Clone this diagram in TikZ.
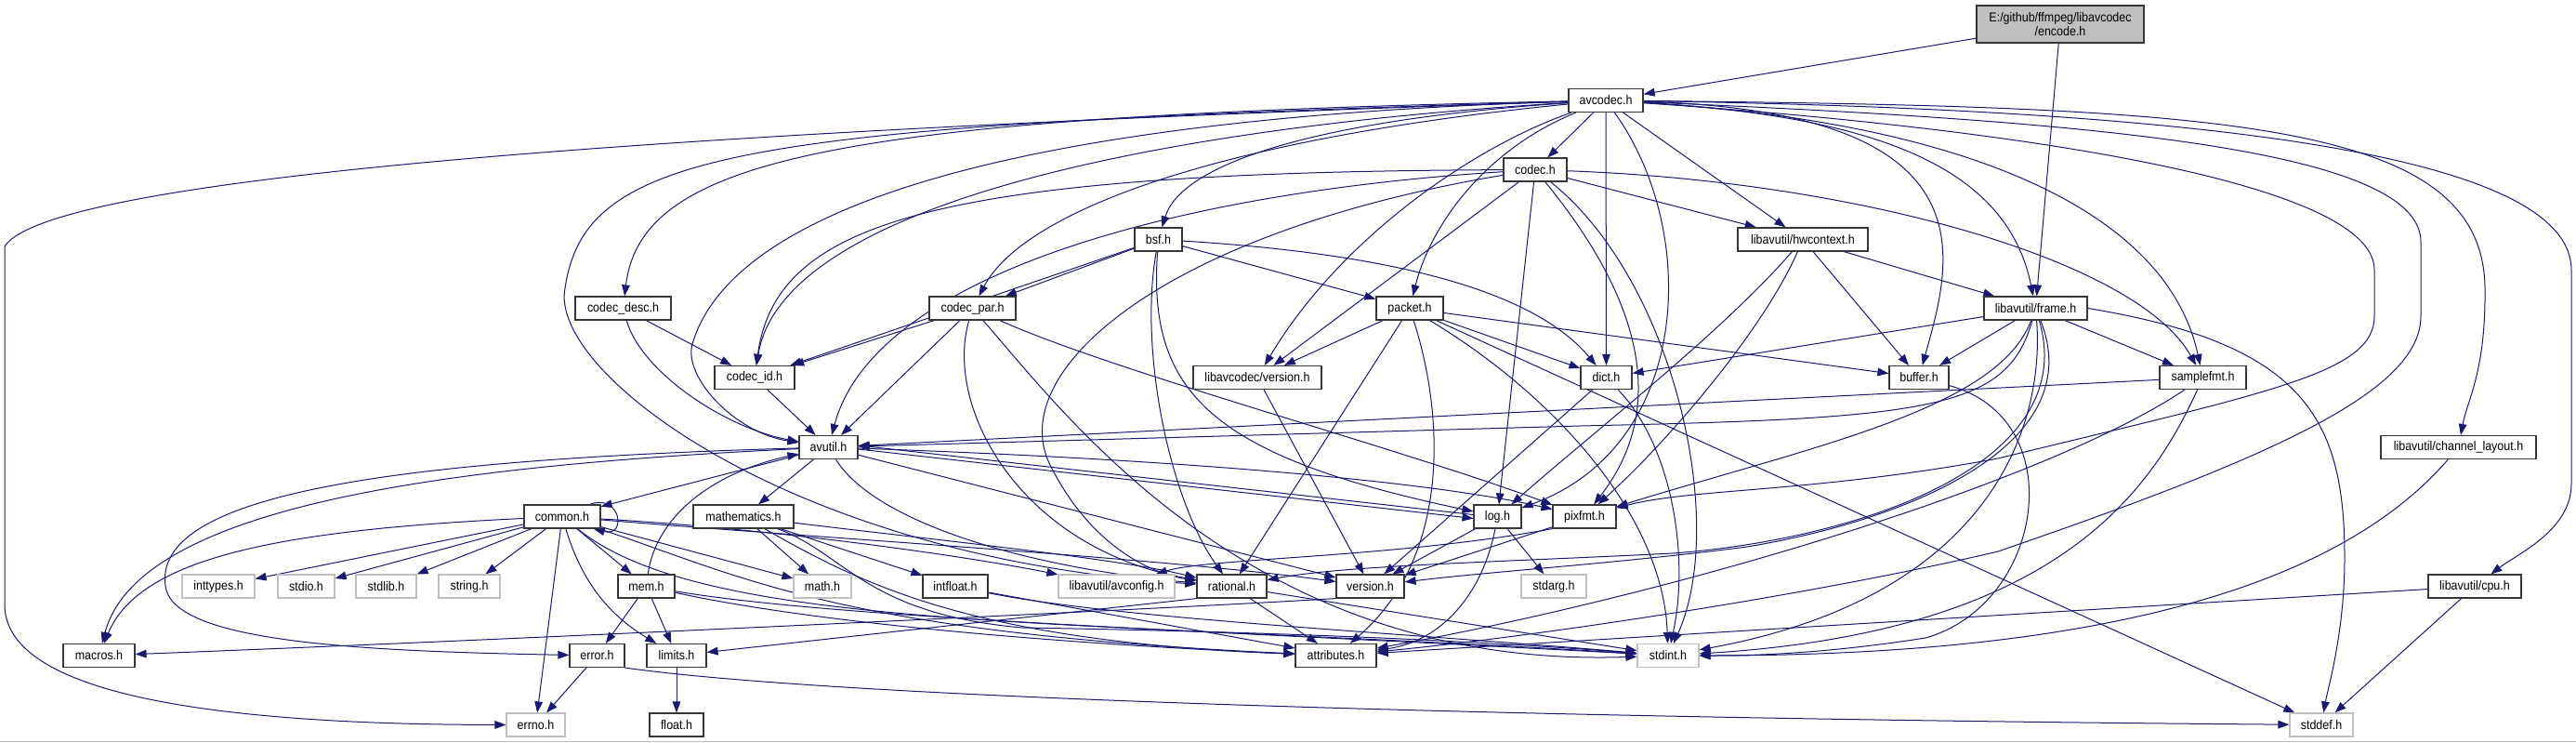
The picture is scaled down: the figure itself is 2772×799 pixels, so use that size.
\documentclass[tikz,border=0pt]{standalone}
\usepackage{fontspec}
\setmainfont{Liberation Sans}[FakeStretch=0.9]
\usetikzlibrary{arrows.meta}
\pgfdeclarelayer{bg}
\pgfsetlayers{bg,main}
\definecolor{edgec}{RGB}{25,25,112}
\definecolor{bord}{RGB}{55,55,55}
\definecolor{sysg}{RGB}{191,191,191}
\definecolor{encf}{RGB}{191,191,191}
\begin{document}
\begin{tikzpicture}[x=0.75pt,y=-0.75pt,
  nd/.style={draw=bord,line width=0.9pt,fill=white,inner sep=0pt,minimum height=25*0.75pt,font=\fontsize{10.4}{11.25}\selectfont},
  sys/.style={nd,draw=sysg},
  wd/.style={minimum width=#1*0.75pt},
  edg/.style={draw=edgec,line width=0.75pt,-{Triangle[length=9pt,width=6.5pt]}}]
\path[use as bounding box] (0,0) rectangle (2772,799);

% nodes
\node[nd,wd=180,minimum height=40*0.75pt,fill=encf,align=center] (encode) at (2217,26) {E:/github/ffmpeg/libavcodec\\/encode.h};
\node[nd,wd=80] (avcodec) at (1728,108) {avcodec.h};
\node[nd,wd=68] (codec) at (1652,182.5) {codec.h};
\node[nd,wd=140] (hwctx) at (1940,257.5) {libavutil/hwcontext.h};
\node[nd,wd=51] (bsf) at (1246.5,257.5) {bsf.h};
\node[nd,wd=103] (cdesc) at (670.5,331.5) {codec\_desc.h};
\node[nd,wd=93] (cpar) at (1046.5,331.5) {codec\_par.h};
\node[nd,wd=72] (packet) at (1517,331.5) {packet.h};
\node[nd,wd=111] (frame) at (2190.5,331.5) {libavutil/frame.h};
\node[nd,wd=86] (cid) at (812,406) {codec\_id.h};
\node[nd,wd=138] (lver) at (1353,406) {libavcodec/version.h};
\node[nd,wd=55] (dict) at (1728.5,406) {dict.h};
\node[nd,wd=64] (buffer) at (2065,406) {buffer.h};
\node[nd,wd=93] (sfmt) at (2370.5,406) {samplefmt.h};
\node[nd,wd=63] (avutil) at (891.5,481) {avutil.h};
\node[nd,wd=167] (chl) at (2645.5,481) {libavutil/channel\_layout.h};
\node[nd,wd=82] (common) at (605,555.5) {common.h};
\node[nd,wd=108] (mathh) at (800,555.5) {mathematics.h};
\node[nd,wd=51] (log) at (1611.5,555.5) {log.h};
\node[nd,wd=68] (pixfmt) at (1705,555.5) {pixfmt.h};
\node[sys,wd=78] (inttypes) at (235,630.5) {inttypes.h};
\node[sys,wd=61] (stdio) at (329.5,630.5) {stdio.h};
\node[sys,wd=65] (stdlib) at (415.5,630.5) {stdlib.h};
\node[sys,wd=66] (string) at (505,630.5) {string.h};
\node[nd,wd=61] (mem) at (695.5,630.5) {mem.h};
\node[sys,wd=62] (math) at (885,630.5) {math.h};
\node[nd,wd=70] (intfloat) at (1028,630.5) {intfloat.h};
\node[sys,wd=125] (avconfig) at (1201.5,630.5) {libavutil/avconfig.h};
\node[nd,wd=75] (rational) at (1325.5,630.5) {rational.h};
\node[nd,wd=73] (version) at (1474.5,630.5) {version.h};
\node[sys,wd=70] (stdarg) at (1672,630.5) {stdarg.h};
\node[nd,wd=100] (cpu) at (2663,630.5) {libavutil/cpu.h};
\node[nd,wd=77] (macros) at (106.5,705) {macros.h};
\node[nd,wd=59] (error) at (642.5,705) {error.h};
\node[nd,wd=64] (limits) at (728,705) {limits.h};
\node[nd,wd=87] (attr) at (1437.5,705) {attributes.h};
\node[sys,wd=66] (stdint) at (1795,705) {stdint.h};
\node[sys,wd=63] (errno) at (576.5,779.5) {errno.h};
\node[nd,wd=58] (float) at (728,779.5) {float.h};
\node[sys,wd=68] (stddef) at (2498,779.5) {stddef.h};

\begin{pgfonlayer}{bg}
\fill[white] (0,0) rectangle (2772,799);
\draw[sysg,line width=1.2pt] (0,797.5) -- (2772,797.5);
% encode.h
\draw[edg] (encode) -- (avcodec);
\draw[edg] (encode) -- (frame);
% avcodec.h
\draw[edg] (avcodec) .. controls (900,135) and (60,180) .. (5,265) -- (5,650) .. controls (5,740) and (200,779) .. (errno);
\draw[edg] (avcodec) .. controls (2100,130) and (2330,220) .. (sfmt);
\draw[edg] (avcodec) .. controls (2250,130) and (2605,160) .. (2605,260) -- (2605,340) .. controls (2605,420) and (2450,490) .. (2150,593) .. controls (1950,640) and (1650,685) .. (attr);
\draw[edg] (avcodec) .. controls (2400,115) and (2672,130) .. (2674,310) .. controls (2675,400) and (2655,430) .. (chl);
\draw[edg] (avcodec) .. controls (2400,118) and (2766,170) .. (2767,290) -- (2767,520) .. controls (2767,570) and (2710,595) .. (cpu);
\draw[edg] (avcodec) .. controls (2200,140) and (2555,200) .. (2555,290) -- (2555,340) .. controls (2555,400) and (2450,420) .. (2150,493) .. controls (1950,530) and (1820,525) .. (pixfmt);
\draw[edg] (avcodec) .. controls (2020,125) and (2160,180) .. (frame);
\draw[edg] (avcodec) .. controls (2150,120) and (2100,280) .. (buffer);
\draw[edg] (avcodec) -- (hwctx);
\draw[edg] (avcodec) -- (dict);
\draw[edg] (avcodec) -- (codec);
\draw[edg] (avcodec) .. controls (1600,160) and (1540,240) .. (packet);
\draw[edg] (avcodec) .. controls (1400,130) and (1270,180) .. (bsf);
\draw[edg] (avcodec) .. controls (1300,150) and (1100,230) .. (cpar);
\draw[edg] (avcodec) .. controls (1580,160) and (1440,260) .. (lver);
\draw[edg] (avcodec) .. controls (1200,140) and (840,230) .. (cid);
\draw[edg] (avcodec) .. controls (900,125) and (690,170) .. (cdesc);
\draw[edg] (avcodec) .. controls (1000,130) and (780,250) .. (745,370) .. controls (735,405) and (790,465) .. (avutil);
\draw[edg] (avcodec) .. controls (800,135) and (630,160) .. (608,310) .. controls (590,400) and (850,600) .. (rational);
\draw[edg] (avcodec) .. controls (1830,250) and (1820,480) .. (log);
% codec.h
\draw[edg] (codec) .. controls (1800,300) and (1860,560) .. (stdint);
\draw[edg] (codec) .. controls (1250,208) and (940,300) .. (avutil);
\draw[edg] (codec) -- (hwctx);
\draw[edg] (codec) -- (log);
\draw[edg] (codec) .. controls (1740,290) and (1810,420) .. (pixfmt);
\draw[edg] (codec) .. controls (1250,250) and (1080,400) .. (1130,500) .. controls (1170,580) and (1230,615) .. (rational);
\draw[edg] (codec) .. controls (2000,195) and (2300,280) .. (sfmt);
\draw[edg] (codec) .. controls (1000,185) and (835,240) .. (cid);
\draw[edg] (codec) -- (lver);
% bsf.h
\draw[edg] (bsf) .. controls (1450,270) and (1640,300) .. (dict);
\draw[edg] (bsf) .. controls (1235,420) and (1300,490) .. (log);
\draw[edg] (bsf) .. controls (1225,380) and (1260,540) .. (rational);
\draw[edg] (bsf) -- (cid);
\draw[edg] (bsf) -- (cpar);
\draw[edg] (bsf) -- (packet);
% codec_par.h
\draw[edg] (cpar) -- (cid);
\draw[edg] (cpar) -- (avutil);
\draw[edg] (cpar) .. controls (1015,440) and (1100,590) .. (rational);
\draw[edg] (cpar) .. controls (1200,400) and (1500,480) .. (pixfmt);
\draw[edg] (cpar) .. controls (1150,450) and (1350,720) .. (stdint);
% codec_desc.h, codec_id.h
\draw[edg] (cdesc) -- (cid);
\draw[edg] (cdesc) .. controls (690,400) and (780,460) .. (avutil);
\draw[edg] (cid) -- (avutil);
% packet.h
\draw[edg] (packet) -- (lver);
\draw[edg] (packet) -- (rational);
\draw[edg] (packet) .. controls (1555,450) and (1560,600) .. (attr);
\draw[edg] (packet) .. controls (1680,430) and (1790,560) .. (stdint);
\draw[edg] (packet) -- (dict);
\draw[edg] (packet) -- (buffer);
\draw[edg] (packet) -- (stddef);
% libavcodec/version.h
\draw[edg] (lver) -- (version);
% hwcontext.h
\draw[edg] (hwctx) -- (buffer);
\draw[edg] (hwctx) -- (frame);
\draw[edg] (hwctx) .. controls (1850,360) and (1720,460) .. (log);
\draw[edg] (hwctx) .. controls (1900,350) and (1800,470) .. (pixfmt);
% frame.h
\draw[edg] (frame) -- (buffer);
\draw[edg] (frame) -- (sfmt);
\draw[edg] (frame) -- (dict);
\draw[edg] (frame) .. controls (2160,440) and (2080,450) .. (1700,458) -- (avutil);
\draw[edg] (frame) .. controls (2250,480) and (2050,560) .. (1880,588) .. controls (1750,605) and (1600,615) .. (version);
\draw[edg] (frame) .. controls (2240,500) and (2000,580) .. (1800,595) .. controls (1600,605) and (1450,608) .. (rational);
\draw[edg] (frame) .. controls (2150,440) and (1950,480) .. (pixfmt);
\draw[edg] (frame) .. controls (2200,450) and (2150,640) .. (stdint);
\draw[edg] (frame.east) .. controls (2480,370) and (2523,450) .. (2523,600) .. controls (2523,680) and (2505,740) .. (stddef);
% dict.h, buffer.h
\draw[edg] (dict) -- (version);
\draw[edg] (dict) .. controls (1800,480) and (1818,600) .. (stdint);
\draw[edg] (buffer) .. controls (2230,450) and (2200,650) .. (2072,686) .. controls (1950,705) and (1870,705) .. (stdint);
% samplefmt.h
\draw[edg] (sfmt) -- (avutil);
\draw[edg] (sfmt) .. controls (2200,520) and (1800,640) .. (attr);
\draw[edg] (sfmt) .. controls (2310,540) and (2200,680) .. (stdint);
% channel_layout.h, cpu.h
\draw[edg] (chl) .. controls (2500,650) and (2200,705) .. (stdint);
\draw[edg] (cpu) -- (stddef);
\draw[edg] (cpu) -- (attr);
% avutil.h
\draw[edg] (avutil) -- (common);
\draw[edg] (avutil) -- (mathh);
\draw[edg] (avutil) .. controls (500,500) and (150,540) .. (macros);
\draw[edg] (avutil) .. controls (400,495) and (165,535) .. (178,630) .. controls (185,690) and (380,700) .. (error);
\draw[edg] (avutil) .. controls (940,560) and (1100,610) .. (rational);
\draw[edg] (avutil) -- (version);
\draw[edg] ([yshift=-1.5pt]avutil.east) -- ([yshift=-1.5pt]log.west);
\draw[edg] ([yshift=1.5pt]log.west) -- ([yshift=1.5pt]avutil.east);
\draw[edg] (avutil) .. controls (1300,495) and (1550,520) .. (pixfmt);
% mathematics.h
\draw[edg] (mathh) -- (math);
\draw[edg] (mathh) -- (intfloat);
\draw[edg] (mathh) .. controls (1000,580) and (1200,600) .. (rational);
\draw[edg] (mathh) .. controls (930,630) and (1050,690) .. (attr);
\draw[edg] (mathh) .. controls (910,595) and (930,660) .. (1100,675) .. controls (1400,680) and (1600,690) .. (stdint);
% common.h
\draw[edg] (common) -- (inttypes);
\draw[edg] (common) -- (stdio);
\draw[edg] (common) -- (stdlib);
\draw[edg] (common) -- (string);
\draw[edg] (common) -- (mem);
\draw[edg] (common) -- (errno);
\draw[edg] (common) -- (math);
\draw[edg] (common) .. controls (630,640) and (670,670) .. (limits);
\draw[edg] (common) .. controls (300,570) and (150,600) .. (macros);
\draw[edg] (common) .. controls (850,570) and (1050,600) .. (avconfig);
\draw[edg] (common) .. controls (900,580) and (1250,600) .. (version);
\draw[edg] (common) .. controls (800,620) and (900,680) .. (attr);
\draw[edg] (common) .. controls (760,680) and (1150,665) .. (stdint);
\draw[edg] ([xshift=-9pt]common.north east) .. controls (668,530) and (675,578) .. ([xshift=-6pt]common.south east);
% mem.h
\draw[edg] (mem) -- (error);
\draw[edg] (mem) -- (limits);
\draw[edg] (mem) .. controls (705,560) and (760,510) .. (avutil);
\draw[edg] (mem) .. controls (900,665) and (1300,678) .. (stdint);
\draw[edg] (mem) .. controls (900,675) and (1200,695) .. (attr);
% error.h, limits.h
\draw[edg] (error) -- (errno);
\draw[edg] (error.south east) .. controls (900,750) and (1600,772) .. (stddef);
\draw[edg] (limits) -- (float);
% rational.h, intfloat.h
\draw[edg] (rational.south west) -- (limits);
\draw[edg] (rational) -- (attr);
\draw[edg] (rational) -- (stdint);
\draw[edg] (intfloat) -- (attr);
\draw[edg] (intfloat) .. controls (1200,665) and (1500,680) .. (stdint);
% log.h, pixfmt.h, version.h
\draw[edg] (log) -- (stdarg);
\draw[edg] (log) -- (version);
\draw[edg] (log) .. controls (1595,640) and (1550,690) .. (attr);
\draw[edg] (pixfmt) -- (version);
\draw[edg] (pixfmt.south west) .. controls (1500,600) and (1300,600) .. (avconfig);
\draw[edg] (version.south west) .. controls (1250,655) and (500,690) .. (macros);
\end{pgfonlayer}
\end{tikzpicture}
\end{document}
